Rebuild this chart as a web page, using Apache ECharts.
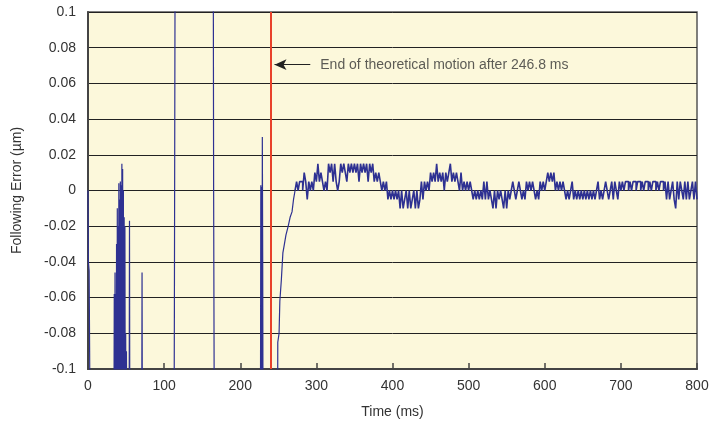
<!DOCTYPE html>
<html>
<head>
<meta charset="utf-8">
<script src="https://cdn.jsdelivr.net/npm/echarts@6/dist/echarts.min.js"></script>
<style>
html,body{margin:0;padding:0;background:#fff;}
#chart{width:725px;height:425px;}
</style>
</head>
<body>
<div id="chart"></div>
<script>
// ---- data ----
var xTickLabels = ['0','100','200','300','400','500','600','700','800'];
var yTickLabels = ['-0.1','-0.08','-0.06','-0.04','-0.02','0','0.02','0.04','0.06','0.08','0.1'];

// early transient (irregular sampling), values below -0.1 / above 0.1 run off the plot
var earlyTimes = [0,0.5,1.5,3, 34,34.5,35,35.5,36,36.5,37,37.5,38,38.5,39,39.5,40,40.5,41,41.5,42,42.5,43,43.5,44,44.5,45,45.5,46,46.5,47,47.5,48,48.5,49,49.5,50,50.5,51,54,54.5,55,
  70.5,71,71.5, 113,113.5,114.5,164.5,165,166, 226.5,227,227.5,228,228.5,229,229.5,230,
  249,249.3,251,252,254,256,258,260,263,265.5,268,270,272];
var earlyValues = [0,-0.04,-0.045,-0.15, -0.15,-0.058,-0.15,-0.046,-0.15,-0.058,-0.15,-0.03,-0.15,-0.01,-0.15,-0.02,-0.15,0.004,-0.15,-0.005,-0.15,0.005,-0.15,0.003,-0.15,0.015,-0.15,0.012,-0.15,0.0,-0.15,-0.015,-0.15,-0.02,-0.15,-0.08,-0.15,-0.09,-0.15,-0.15,-0.017,-0.15,
  -0.15,-0.046,-0.15, -0.15,-0.065,0.15,0.15,0.005,-0.15, -0.15,0.003,-0.15,0.002,-0.15,0.03,-0.04,-0.15,
  -0.15,-0.085,-0.08,-0.062,-0.05,-0.035,-0.03,-0.025,-0.02,-0.015,-0.012,-0.005,0];

// settled, quantised following error sampled every 2 ms from 272 ms
var steadyStart = 272, steadyStep = 2;
var steadyValues = [
  0,0.005,0,0.005,0.005,0, 0.01, 0.005,-0.005,0.005, 0,0.005,0,
  0.01,0.005,0.015,0.005,0.01, 0.005,0,0.005,0,
  0.015,0.01,0.015,0.005,0.015, 0.005,0,0.005,
  0.015,0.01,0.015,0.01, 0.005, 0.015,0.01,0.015,0.01,
  0.015,0.01,0.015,0.005,0.015,0.01,0.015,0.01,0.015,0.005,0.015,0.01,0.015,
  0.005,0.01,0.005,0.01,0.005, 0,0.005,0,0.005,
  -0.005,0,-0.005,0,-0.005,0,-0.005,0,
  -0.01,0,-0.01,-0.005,0,-0.01,0,-0.01,-0.005,0,-0.01,0,-0.01,-0.005,
  0.005,-0.005,0.005, 0,0.005,0,
  0.01,0.005,0.01,0.005,0.015,0.005,0.01,0.005,0.01,0,0.01,0.005,0.01,0.015,0.005,0.01,0.005,0.01,0.005,0,0.01,
  0,0.005,0, 0.005,0,0.005,0,
  -0.005,0,-0.005,0,-0.005,0,-0.005,0.005,
  -0.005,0.005,-0.005,0,-0.005, -0.01,0,-0.01, 0,-0.005,0,-0.005, -0.01,0,-0.01, 0,-0.005,0,
  0.005,0,-0.005,0,0.005,0,-0.005,0,-0.005,
  0.005,0,0.005,0,0.005,0, -0.005,0,-0.005, 0.005,0,0.005,0,
  0.005,0.01,0.005,0.01,0.005,0.01, 0,0.005,0,0.005,0,0.005,0,
  -0.005,0,-0.005,0,0.005,
  -0.005,0,-0.005,0,-0.005,0,-0.005,0,-0.005,0,-0.005,0,-0.005,0,-0.005,0,
  0.005,-0.005,0,-0.005,0,0.005,0,-0.005,0,0.005,-0.005,0.005,0,-0.005,
  0.005,0,0.005,0,0.005,0.005,0,0.005,0,0.005,0.005,0,0.005,0.005,0,0.005,0,0.005,0.005,0,0.005,0,0.005,0.005,0,0.005,0,0.005,0.005,0,
  0.005,-0.005,0.005,-0.005,0,0.005,-0.005,-0.01,0.005,-0.005,0.005,0,-0.005,0.005,-0.005,0.005,-0.005,0,0.005,-0.005,0.005,-0.005
];

var motionEnd = 240;            // position of the red marker on the time axis
var annotationText = 'End of theoretical motion after 246.8 ms';
var arrowFrom = [292, 0.0705], arrowTo = [245, 0.0705];

// ---- build ----
var earlyData = [];
for (var i = 0; i < earlyTimes.length; i++) earlyData.push([earlyTimes[i], earlyValues[i]]);
var steadyData = [];
for (var j = 0; j < steadyValues.length; j++) steadyData.push([steadyStart + j * steadyStep, steadyValues[j]]);

var FONT = '"Liberation Sans Narrow", "Arial Narrow", "Liberation Sans", sans-serif';
var BLUE = '#2E3192';

var chart = echarts.init(document.getElementById('chart'), null, {renderer: 'canvas'});
chart.setOption({
  animation: false,
  backgroundColor: '#ffffff',
  grid: {left: 88, right: 28, top: 12, bottom: 56, show: true, backgroundColor: '#FCF8DB', borderColor: '#555', borderWidth: 1.5},
  xAxis: {
    type: 'value', min: 0, max: 800, interval: 100,
    name: 'Time (ms)', nameLocation: 'middle', nameGap: 36,
    nameTextStyle: {fontFamily: FONT, fontSize: 14, color: '#333'},
    axisLine: {show: true, onZero: false, lineStyle: {color: '#444', width: 2}},
    axisTick: {show: true, inside: true, length: 6, lineStyle: {color: '#444', width: 1.5}},
    axisLabel: {fontFamily: FONT, fontSize: 14, color: '#333', margin: 10,
      formatter: function (v) { var k = Math.round(v / 100); return xTickLabels[k]; }},
    splitLine: {show: false}
  },
  yAxis: {
    type: 'value', min: -0.1, max: 0.1, interval: 0.02,
    name: 'Following Error (µm)', nameLocation: 'middle', nameGap: 64, nameRotate: 90,
    nameTextStyle: {fontFamily: FONT, fontSize: 14, color: '#333'},
    axisLine: {show: true, lineStyle: {color: '#444', width: 2}},
    axisTick: {show: false},
    axisLabel: {fontFamily: FONT, fontSize: 14, color: '#333', margin: 12,
      formatter: function (v) { var k = Math.round((v + 0.1) / 0.02); return yTickLabels[k]; }},
    splitLine: {show: true, lineStyle: {color: '#222', width: 1}}
  },
  series: [{
    type: 'line', data: earlyData, showSymbol: false, symbol: 'none', clip: true,
    lineStyle: {color: BLUE, width: 1.2},
    z: 3,
    markLine: {
      silent: true, animation: false, symbol: ['none', 'none'],
      label: {show: false},
      lineStyle: {color: '#E8412A', width: 2, type: 'solid'},
      data: [{xAxis: motionEnd}]
    }
  }, {
    type: 'line', data: steadyData, showSymbol: false, symbol: 'none', clip: true, step: 'end',
    lineStyle: {color: BLUE, width: 1.6}, z: 3
  }, {
    type: 'line', data: [], z: 4,
    markLine: {
      silent: true, animation: false, symbol: ['none', 'arrow'], symbolSize: [8, 12],
      label: {show: false},
      lineStyle: {color: '#222', width: 1, type: 'solid'},
      data: [[{coord: arrowFrom}, {coord: arrowTo}]]
    }
  }, {
    type: 'scatter', data: [arrowFrom], symbolSize: 0, z: 5,
    label: {show: true, position: 'right', distance: 10, formatter: annotationText,
      fontFamily: FONT, fontSize: 14, color: '#333'}
  }]
});
</script>
</body>
</html>
